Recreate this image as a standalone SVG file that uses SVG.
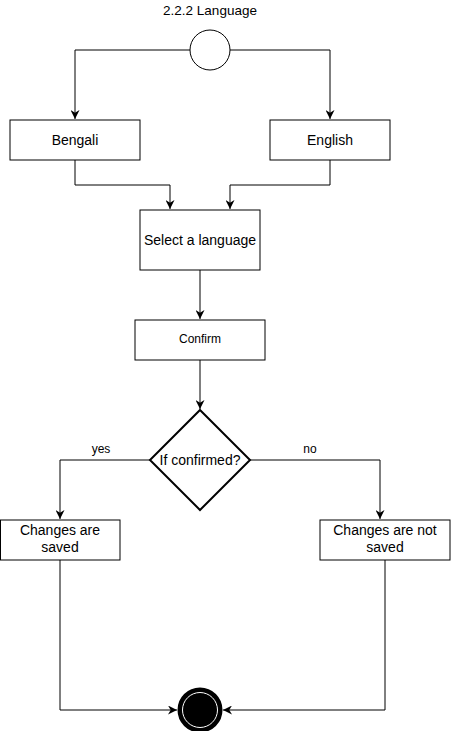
<svg xmlns="http://www.w3.org/2000/svg" width="451" height="731" viewBox="0 0 451 731">
<style>
.box{fill:#fff;stroke:#000;stroke-width:1}
.t{font-family:"Liberation Sans",Arial,sans-serif;font-size:14px;fill:#000;text-anchor:middle}
.s{font-size:12px}
.e{fill:none;stroke:#000;stroke-width:1}
</style>
<defs>
<marker id="arr" viewBox="0 0 10 10" refX="10" refY="5" markerWidth="9" markerHeight="9" markerUnits="userSpaceOnUse" orient="auto">
<path d="M0,0 L10,5 L0,10 L3,5 Z" fill="#000"/>
</marker>
</defs>
<rect width="451" height="731" fill="#fff"/>
<text class="t" x="210" y="15" style="font-size:13.5px">2.2.2 Language</text>
<g id="connectors">
<path class="e" d="M190,50 H75 V119" marker-end="url(#arr)"/>
<path class="e" d="M230,50 H330 V119" marker-end="url(#arr)"/>
<path class="e" d="M75,160 V185 H170 V209" marker-end="url(#arr)"/>
<path class="e" d="M330,160 V185 H230 V209" marker-end="url(#arr)"/>
<path class="e" d="M200,270 V319" marker-end="url(#arr)"/>
<path class="e" d="M200,360 V409" marker-end="url(#arr)"/>
<path class="e" d="M150,460 H60 V519" marker-end="url(#arr)"/>
<path class="e" d="M250,460 H380 V519" marker-end="url(#arr)"/>
<path class="e" d="M60,560 V710 H177" marker-end="url(#arr)"/>
<path class="e" d="M385,560 V710 H223" marker-end="url(#arr)"/>
<text class="t s" x="101" y="453">yes</text>
<text class="t s" x="310" y="453">no</text>
</g>
<g id="start"><circle cx="210" cy="50" r="20" class="box"/></g>
<g id="bengali"><rect class="box" x="10" y="120" width="130" height="40"/><text class="t" x="75" y="145">Bengali</text></g>
<g id="english"><rect class="box" x="270" y="120" width="120" height="40"/><text class="t" x="330" y="145">English</text></g>
<g id="select"><rect class="box" x="140" y="210" width="120" height="60"/><text class="t" x="200" y="245">Select a language</text></g>
<g id="confirm"><rect class="box" x="135" y="320" width="130" height="40"/><text class="t s" x="200" y="343">Confirm</text></g>
<g id="decision"><path class="box" d="M200,410 L250,460 L200,510 L150,460 Z" style="stroke-width:2"/><text class="t" x="200" y="465">If confirmed?</text></g>
<g id="saved"><rect class="box" x="0.5" y="520" width="119.5" height="40"/><text class="t" x="60" y="535">Changes are</text><text class="t" x="60" y="552">saved</text></g>
<g id="notsaved"><rect class="box" x="320" y="520" width="130" height="40"/><text class="t" x="385" y="535">Changes are not</text><text class="t" x="385" y="552">saved</text></g>
<g id="end"><circle cx="200" cy="710" r="21" fill="#000" stroke="#000" stroke-width="3"/><circle cx="200" cy="710" r="17.5" fill="none" stroke="#fff" stroke-width="1"/></g>
</svg>
